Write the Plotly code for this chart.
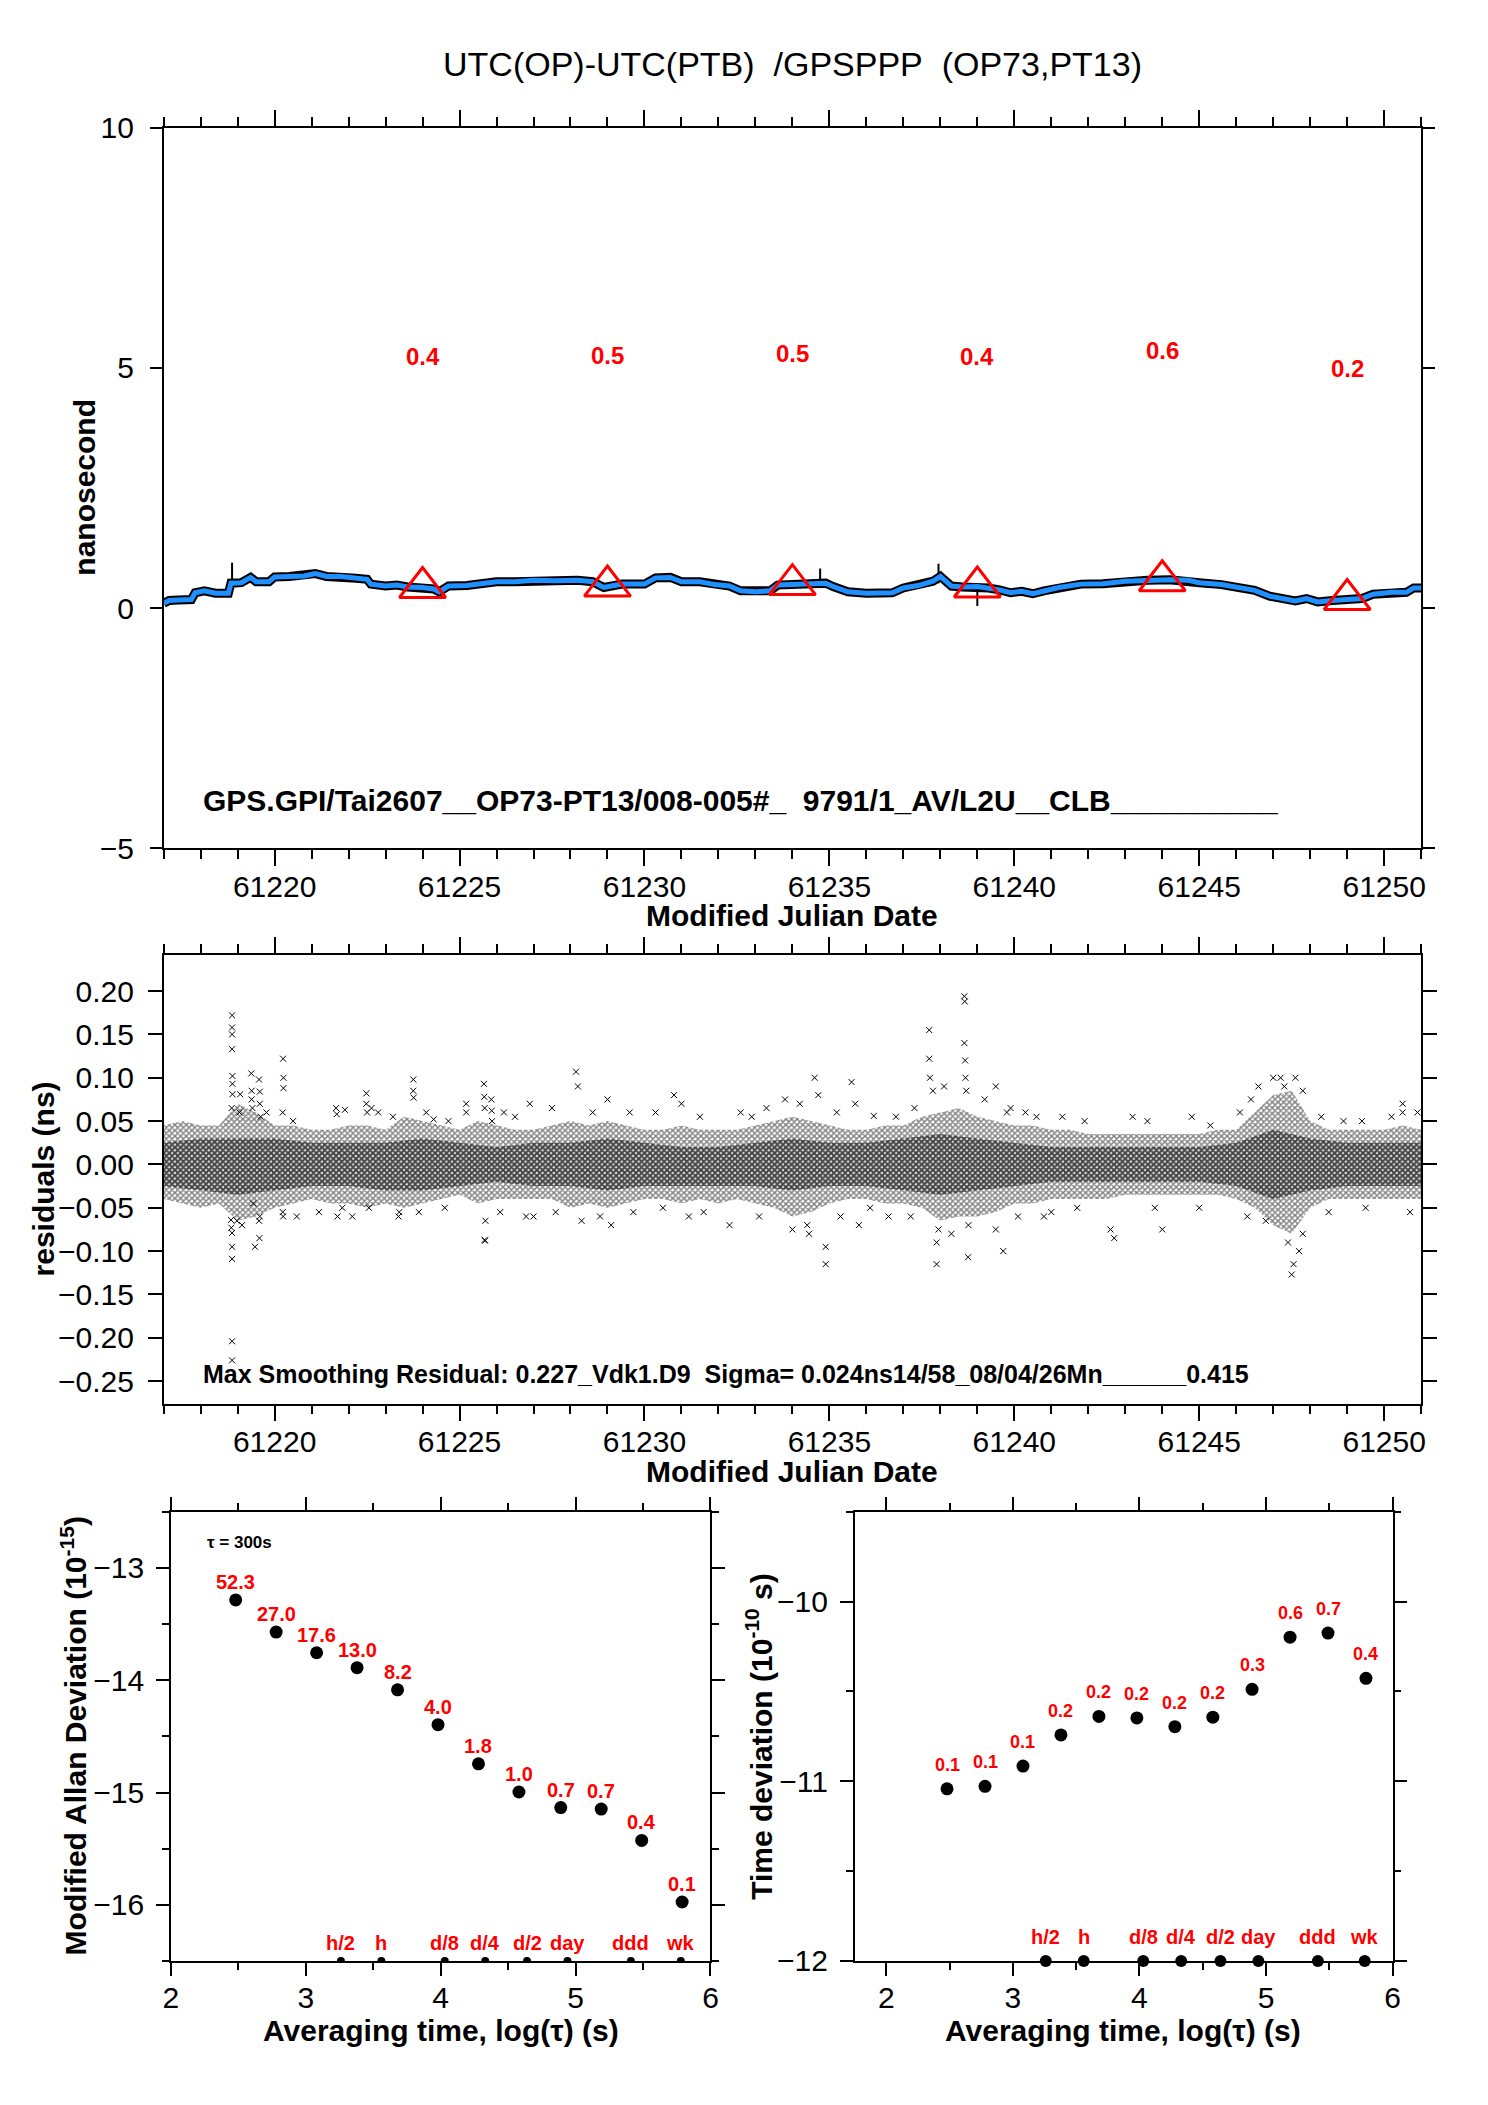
import plotly.graph_objects as go

# -------------------------
# Top panel: UTC(OP)-UTC(PTB), smoothed curve (ns)
# -------------------------
mjd = [61217.00, 61217.15, 61217.40, 61217.75, 61217.85, 61218.10, 61218.40, 61218.75,
       61218.82, 61219.10, 61219.35, 61219.50, 61219.85, 61220.00, 61220.40, 61220.80,
       61221.10, 61221.40, 61221.80, 61222.20, 61222.50, 61222.60, 61223.00, 61223.30,
       61223.60, 61224.00, 61224.30, 61224.45, 61224.70, 61225.20, 61225.60, 61226.00,
       61226.50, 61227.00, 61227.60, 61228.20, 61228.60, 61228.90, 61229.10, 61229.40,
       61230.00, 61230.30, 61230.70, 61231.00, 61231.50, 61231.90, 61232.30, 61232.60,
       61233.00, 61233.40, 61233.60, 61234.00, 61234.50, 61234.90, 61235.10, 61235.50,
       61236.00, 61236.40, 61236.70, 61237.00, 61237.40, 61237.80, 61238.00, 61238.30,
       61238.60, 61239.00, 61239.30, 61239.60, 61239.90, 61240.20, 61240.50, 61240.80,
       61241.20, 61241.80, 61242.40, 61243.00, 61243.60, 61244.20, 61244.70, 61245.00,
       61245.60, 61246.10, 61246.50, 61246.90, 61247.30, 61247.60, 61247.90, 61248.20,
       61248.60, 61249.00, 61249.40, 61249.70, 61250.20, 61250.60, 61250.80, 61251.00]
smooth_ns = [0.10, 0.16, 0.17, 0.18, 0.32, 0.36, 0.31, 0.31,
             0.52, 0.53, 0.64, 0.55, 0.55, 0.65, 0.66, 0.67,
             0.72, 0.66, 0.66, 0.62, 0.60, 0.50, 0.46, 0.48,
             0.44, 0.43, 0.40, 0.34, 0.46, 0.47, 0.51, 0.55,
             0.55, 0.58, 0.57, 0.58, 0.55, 0.43, 0.46, 0.50,
             0.50, 0.63, 0.64, 0.55, 0.55, 0.49, 0.46, 0.36,
             0.34, 0.36, 0.48, 0.49, 0.50, 0.52, 0.45, 0.34,
             0.31, 0.33, 0.32, 0.42, 0.47, 0.56, 0.66, 0.46,
             0.44, 0.45, 0.42, 0.38, 0.32, 0.35, 0.30, 0.36,
             0.43, 0.50, 0.51, 0.56, 0.58, 0.59, 0.58, 0.53,
             0.49, 0.42, 0.37, 0.25, 0.19, 0.15, 0.20, 0.13,
             0.16, 0.17, 0.20, 0.29, 0.33, 0.33, 0.42, 0.42]

# raw-data spikes poking out of the curve
spike_mjd = [61218.85, 61237.95, 61234.75, 61239.0]
spike_ns = [0.74, 0.72, 0.62, 0.25]

# red triangles every 5 days
tri_mjd = [61224, 61229, 61234, 61239, 61244, 61249]
tri_ns = [0.43, 0.46, 0.49, 0.44, 0.57, 0.18]
tri_text = ["0.4", "0.5", "0.5", "0.4", "0.6", "0.2"]

# -------------------------
# Middle panel: residuals (ns)
# -------------------------
env_t = [61217.0, 61217.5, 61218.0, 61218.5, 61219.0, 61219.5, 61220.0, 61220.5, 61221.0, 61221.5,
         61222.0, 61222.5, 61223.0, 61223.5, 61224.0, 61224.5, 61225.0, 61225.5, 61226.0, 61226.5,
         61227.0, 61227.5, 61228.0, 61228.5, 61229.0, 61229.5, 61230.0, 61230.5, 61231.0, 61231.5,
         61232.0, 61232.5, 61233.0, 61233.5, 61234.0, 61234.5, 61235.0, 61235.5, 61236.0, 61236.5,
         61237.0, 61237.5, 61238.0, 61238.5, 61239.0, 61239.5, 61240.0, 61240.5, 61241.0, 61241.5,
         61242.0, 61242.5, 61243.0, 61243.5, 61244.0, 61244.5, 61245.0, 61245.5, 61246.0, 61246.5,
         61247.0, 61247.5, 61248.0, 61248.5, 61249.0, 61249.5, 61250.0, 61250.5, 61251.0]
env_hi = [0.045, 0.050, 0.045, 0.045, 0.070, 0.060, 0.045, 0.045, 0.040, 0.040,
          0.045, 0.045, 0.040, 0.055, 0.050, 0.045, 0.040, 0.050, 0.045, 0.040,
          0.040, 0.045, 0.050, 0.045, 0.050, 0.045, 0.040, 0.040, 0.045, 0.040,
          0.040, 0.040, 0.045, 0.050, 0.055, 0.050, 0.045, 0.040, 0.040, 0.045,
          0.045, 0.055, 0.060, 0.065, 0.055, 0.050, 0.045, 0.045, 0.040, 0.040,
          0.035, 0.035, 0.035, 0.035, 0.035, 0.035, 0.035, 0.040, 0.040, 0.060,
          0.080, 0.085, 0.050, 0.040, 0.040, 0.040, 0.040, 0.045, 0.040]
env_lo = [-0.040, -0.045, -0.050, -0.045, -0.065, -0.060, -0.050, -0.045, -0.040, -0.045,
          -0.045, -0.050, -0.045, -0.050, -0.045, -0.040, -0.035, -0.045, -0.040, -0.040,
          -0.040, -0.040, -0.050, -0.045, -0.050, -0.045, -0.040, -0.040, -0.045, -0.040,
          -0.045, -0.040, -0.045, -0.050, -0.060, -0.055, -0.045, -0.040, -0.040, -0.045,
          -0.045, -0.050, -0.065, -0.060, -0.060, -0.055, -0.045, -0.045, -0.040, -0.040,
          -0.040, -0.040, -0.035, -0.035, -0.035, -0.035, -0.035, -0.035, -0.040, -0.050,
          -0.070, -0.080, -0.050, -0.040, -0.040, -0.040, -0.040, -0.040, -0.040]

core_t = [61217, 61218, 61219, 61220, 61221, 61222, 61223, 61224, 61225, 61226, 61227, 61228,
          61229, 61230, 61231, 61232, 61233, 61234, 61235, 61236, 61237, 61238, 61239, 61240,
          61241, 61242, 61243, 61244, 61245, 61246, 61247, 61248, 61249, 61250, 61251]
core_hi = [0.025, 0.030, 0.030, 0.030, 0.025, 0.025, 0.025, 0.030, 0.025, 0.020, 0.025, 0.025,
           0.030, 0.025, 0.020, 0.020, 0.025, 0.030, 0.025, 0.025, 0.030, 0.035, 0.030, 0.025,
           0.020, 0.020, 0.020, 0.020, 0.020, 0.025, 0.040, 0.030, 0.025, 0.025, 0.025]
core_lo = [-0.025, -0.030, -0.035, -0.030, -0.025, -0.025, -0.030, -0.030, -0.025, -0.020, -0.025, -0.025,
           -0.030, -0.025, -0.025, -0.025, -0.025, -0.030, -0.025, -0.025, -0.030, -0.035, -0.030, -0.025,
           -0.020, -0.020, -0.020, -0.020, -0.020, -0.025, -0.040, -0.030, -0.025, -0.025, -0.025]

out_t = [61218.85, 61218.85, 61218.85, 61218.85, 61218.86, 61218.86, 61218.86, 61218.84, 61218.82, 61218.83,
         61218.85, 61218.85, 61218.85, 61218.85, 61218.85, 61219.07, 61219.05, 61218.98, 61219.12, 61219.37,
         61219.38, 61219.38, 61219.40, 61219.42, 61219.47, 61219.58, 61219.60, 61219.60, 61219.62, 61219.58,
         61219.59, 61219.60, 61219.78, 61220.23, 61220.24, 61220.24, 61220.22, 61220.22, 61220.23, 61221.66,
         61221.68, 61221.70, 61221.83, 61222.48, 61222.48, 61222.50, 61222.55, 61222.62, 61223.35, 61223.37,
         61223.75, 61223.75, 61223.76, 61224.30, 61225.18, 61225.18, 61225.66, 61225.67, 61225.68, 61225.70,
         61225.68, 61225.69, 61225.86, 61225.87, 61225.88, 61226.50, 61227.00, 61228.15, 61228.20, 61228.30,
         61229.00, 61229.10, 61230.80, 61231.00, 61231.20, 61232.30, 61232.60, 61233.80, 61234.00, 61234.20,
         61234.45, 61234.40, 61234.60, 61234.70, 61234.90, 61234.90, 61235.60, 61235.70, 61235.80, 61236.20,
         61236.60, 61237.70, 61237.70, 61237.72, 61237.80, 61237.90, 61237.90, 61237.95, 61238.10, 61238.30,
         61238.65, 61238.66, 61238.65, 61238.67, 61238.68, 61238.70, 61238.75, 61238.76, 61239.20, 61239.50,
         61239.50, 61239.70, 61239.80, 61240.30, 61240.80, 61242.60, 61242.70, 61243.20, 61244.00, 61244.80,
         61246.40, 61246.60, 61246.80, 61247.00, 61247.20, 61247.30, 61247.40, 61247.50, 61247.55, 61247.60,
         61247.70, 61247.80, 61247.80, 61248.90, 61250.50, 61250.50,
         61220.50, 61221.90, 61222.80, 61223.20, 61224.10, 61224.70, 61226.20, 61226.90, 61227.50, 61228.60,
         61229.60, 61230.30, 61231.50, 61232.90, 61233.30, 61235.20, 61236.80, 61237.30, 61239.90, 61240.60,
         61241.30, 61241.90, 61243.60, 61245.30, 61246.10, 61248.30, 61249.40, 61250.20, 61250.90,
         61220.60, 61221.20, 61222.10, 61223.90, 61224.60, 61226.10, 61226.80, 61227.60, 61228.80, 61229.70,
         61230.50, 61231.60, 61233.10, 61235.30, 61236.10, 61237.20, 61240.10, 61241.00, 61241.70, 61243.80,
         61245.00, 61246.30, 61248.50, 61249.50, 61250.70]
out_ns = [0.172, 0.158, 0.150, 0.133, 0.102, 0.093, 0.081, 0.065, -0.064, -0.073,
          -0.079, -0.095, -0.109, -0.204, -0.226, 0.081, 0.060, -0.065, -0.070, 0.105,
          0.085, 0.075, 0.065, -0.045, -0.095, 0.098, 0.084, 0.070, 0.055, -0.065,
          -0.085, -0.060, 0.060, 0.122, 0.100, 0.088, 0.060, -0.055, -0.060, 0.065,
          0.058, -0.060, -0.050, 0.082, 0.070, 0.060, -0.050, 0.065, -0.060, -0.055,
          0.098, 0.085, 0.077, 0.052, 0.070, 0.060, 0.093, 0.078, 0.065, -0.065,
          -0.087, -0.088, 0.075, 0.062, 0.050, 0.055, -0.060, 0.107, 0.090, -0.065,
          0.075, -0.070, 0.080, 0.070, -0.060, -0.070, 0.060, 0.075, -0.075, 0.070,
          -0.080, -0.070, 0.100, 0.080, -0.115, -0.095, 0.095, 0.070, -0.070, 0.056,
          -0.060, 0.155, 0.122, 0.100, 0.085, -0.115, -0.090, -0.075, 0.090, -0.080,
          0.194, 0.188, 0.140, 0.120, 0.100, 0.085, -0.107, -0.070, 0.075, 0.090,
          -0.075, -0.100, 0.060, 0.060, -0.060, -0.075, -0.085, 0.055, -0.075, 0.055,
          0.075, 0.090, -0.065, 0.100, 0.100, 0.090, -0.090, -0.127, -0.115, 0.100,
          -0.100, 0.085, -0.080, 0.050, 0.070, 0.060,
          0.050, 0.063, 0.060, 0.055, 0.060, 0.050, 0.060, 0.070, 0.065, 0.060,
          0.060, 0.060, 0.055, 0.055, 0.065, 0.060, 0.055, 0.065, 0.065, 0.055,
          0.055, 0.050, 0.050, 0.045, 0.060, 0.055, 0.050, 0.055, 0.060,
          -0.060, -0.055, -0.060, -0.055, -0.050, -0.055, -0.060, -0.055, -0.060, -0.055,
          -0.050, -0.055, -0.060, -0.060, -0.050, -0.060, -0.060, -0.055, -0.050, -0.050,
          -0.050, -0.060, -0.055, -0.050, -0.055]

# -------------------------
# Bottom panels: MDEV and TDEV
# -------------------------
log_tau = [2.48, 2.78, 3.08, 3.38, 3.68, 3.98, 4.28, 4.58, 4.89, 5.19, 5.49, 5.79]
log_mdev = [-13.285, -13.571, -13.755, -13.888, -14.085, -14.396, -14.744, -14.995,
            -15.134, -15.147, -15.426, -15.975]
mdev_text = ["52.3", "27.0", "17.6", "13.0", "8.2", "4.0", "1.8", "1.0", "0.7", "0.7", "0.4", "0.1"]
log_tdev = [-11.042, -11.028, -10.915, -10.742, -10.639, -10.647, -10.696, -10.643,
            -10.488, -10.198, -10.175, -10.427]
tdev_text = ["0.1", "0.1", "0.1", "0.2", "0.2", "0.2", "0.2", "0.2", "0.3", "0.6", "0.7", "0.4"]

mark_tau = [3.26, 3.56, 4.03, 4.33, 4.64, 4.94, 5.41, 5.78]
mark_text = ["h/2", "h", "d/8", "d/4", "d/2", "day", "ddd", "wk"]

FONT = "Liberation Sans"
# the page keeps its 8 px body margin, so the figure is 16 px smaller than the window
W, H = 1472, 2089


# target positions are given in picture pixels; the captured page comes out
# slightly shrunk and shifted, so undo that before turning them into paper units
def px(p):
    return ((p - 6.0) / 0.99 - 8) / W


def py(p):
    return 1 - ((p - 12.6) / 0.986 - 8) / H


fig = go.Figure()

# top panel
fig.add_trace(go.Scatter(x=mjd, y=smooth_ns, mode="lines", xaxis="x", yaxis="y",
                         line=dict(color="black", width=9), showlegend=False))
fig.add_trace(go.Scatter(x=spike_mjd, y=spike_ns, mode="markers", xaxis="x", yaxis="y",
                         marker=dict(symbol="line-ns-open", size=14, color="black",
                                     line=dict(color="black", width=2)),
                         showlegend=False))
fig.add_trace(go.Scatter(x=mjd, y=smooth_ns, mode="lines", xaxis="x", yaxis="y",
                         line=dict(color="#1E90FF", width=5), showlegend=False))
fig.add_trace(go.Scatter(x=tri_mjd, y=tri_ns, mode="markers", xaxis="x", yaxis="y",
                         marker=dict(symbol="triangle-up-open", size=40, color="red",
                                     line=dict(color="red", width=3)),
                         showlegend=False))

# middle panel: dense band of residual crosses + isolated outliers
fig.add_trace(go.Scatter(x=env_t, y=env_lo, mode="lines", xaxis="x2", yaxis="y2",
                         line=dict(width=0), showlegend=False))
fig.add_trace(go.Scatter(x=env_t, y=env_hi, mode="lines", xaxis="x2", yaxis="y2",
                         line=dict(width=0), fill="tonexty",
                         fillpattern=dict(shape="x", size=4, solidity=0.6,
                                          fgcolor="black", bgcolor="white"),
                         showlegend=False))
fig.add_trace(go.Scatter(x=core_t, y=core_lo, mode="lines", xaxis="x2", yaxis="y2",
                         line=dict(width=0), showlegend=False))
fig.add_trace(go.Scatter(x=core_t, y=core_hi, mode="lines", xaxis="x2", yaxis="y2",
                         line=dict(width=0), fill="tonexty",
                         fillpattern=dict(shape="x", size=4, solidity=0.85,
                                          fgcolor="black", bgcolor="rgba(0,0,0,0)"),
                         showlegend=False))
fig.add_trace(go.Scatter(x=out_t, y=out_ns, mode="markers", xaxis="x2", yaxis="y2",
                         marker=dict(symbol="x-thin-open", size=6, color="black",
                                     line=dict(color="black", width=1)),
                         showlegend=False))

# bottom-left: modified Allan deviation
fig.add_trace(go.Scatter(x=log_tau, y=log_mdev, mode="markers", xaxis="x3", yaxis="y3",
                         marker=dict(size=13, color="black"), showlegend=False))
fig.add_trace(go.Scatter(x=mark_tau, y=[-16.5] * len(mark_tau), mode="markers",
                         xaxis="x3", yaxis="y3", marker=dict(size=8, color="black"),
                         showlegend=False))

# bottom-right: time deviation
fig.add_trace(go.Scatter(x=log_tau, y=log_tdev, mode="markers", xaxis="x4", yaxis="y4",
                         marker=dict(size=13, color="black"), showlegend=False))
fig.add_trace(go.Scatter(x=mark_tau, y=[-12] * len(mark_tau), mode="markers",
                         xaxis="x4", yaxis="y4", marker=dict(size=12, color="black"),
                         cliponaxis=False, showlegend=False))


def ax(**kw):
    base = dict(showline=True, linecolor="black", linewidth=1.5, mirror="ticks",
                ticks="outside", tickcolor="black", tickwidth=1.5, showgrid=False,
                zeroline=False, tickfont=dict(family=FONT, size=30, color="black"),
                fixedrange=True)
    base.update(kw)
    return base


def minor(dtick, length):
    return dict(ticks="outside", dtick=dtick, ticklen=length, tickcolor="black",
                tickwidth=1.5, showgrid=False)


mjd_ticks = dict(tick0=61220, dtick=5, ticklen=16, minor=minor(1, 9), tickformat="d",
                 ticklabelstandoff=-5)

annotations = []


def note(text, x, y, size, xref="paper", yref="paper", color="black", angle=0,
         xanchor="center", yshift=0):
    annotations.append(dict(text=text, x=x, y=y, xref=xref, yref=yref, showarrow=False,
                            font=dict(family=FONT, size=size, color=color),
                            textangle=angle, xanchor=xanchor, yanchor="middle",
                            yshift=yshift))


note("UTC(OP)-UTC(PTB)\u00a0\u00a0/GPSPPP\u00a0\u00a0(OP73,PT13)", px(791), py(61), 34)
note("<b>Modified Julian Date</b>", px(791), py(914), 30)
note("<b>Modified Julian Date</b>", px(791), py(1471), 30)
note("<b>nanosecond</b>", px(83), py(485), 30, angle=-90)
note("<b>residuals (ns)</b>", px(41), py(1178), 30, angle=-90)
note("<b>Modified Allan Deviation (10<sup>-15</sup>)</b>", px(72), py(1736), 30, angle=-90)
note("<b>Time deviation (10<sup>-10</sup> s)</b>", px(758), py(1736), 30, angle=-90)
note("<b>Averaging time, log(\u03c4) (s)</b>", px(439), py(2031), 30)
note("<b>Averaging time, log(\u03c4) (s)</b>", px(1122), py(2031), 30)

note("<b>GPS.GPI/Tai2607__OP73-PT13/008-005#_\u00a0\u00a09791/1_AV/L2U__CLB__________</b>",
     61218, -4.0, 30, xref="x", yref="y", xanchor="left")
note("<b>Max Smoothing Residual: 0.227_Vdk1.D9\u00a0\u00a0Sigma= 0.024ns14/58_08/04/26Mn______0.415</b>",
     61218, -0.242, 25, xref="x2", yref="y2", xanchor="left")

for t, v, s in zip(tri_mjd, tri_ns, tri_text):
    note("<b>" + s + "</b>", t, v + 4.8, 24, xref="x", yref="y", color="red")

for t, v, s in zip(log_tau, log_mdev, mdev_text):
    note("<b>" + s + "</b>", t, v, 20, xref="x3", yref="y3", color="red", yshift=18)
for t, v, s in zip(log_tau, log_tdev, tdev_text):
    note("<b>" + s + "</b>", t, v, 18, xref="x4", yref="y4", color="red", yshift=24)
for t, s in zip(mark_tau, mark_text):
    note("<b>" + s + "</b>", t, -16.5, 20, xref="x3", yref="y3", color="red", yshift=18)
    note("<b>" + s + "</b>", t, -12, 20, xref="x4", yref="y4", color="red", yshift=24)

note("<b>\u03c4 = 300s</b>", 2.25, -12.77, 17, xref="x3", yref="y3", xanchor="left")

fig.update_layout(
    width=W, height=H,
    margin=dict(l=0, r=0, t=0, b=0),
    paper_bgcolor="white", plot_bgcolor="white",
    font=dict(family=FONT, color="black"),
    xaxis=ax(domain=[px(161.7), px(1420.3)], anchor="y", range=[61217, 61251], **mjd_ticks),
    yaxis=ax(domain=[py(846.4), py(124.3)], anchor="x", range=[-5, 10], tick0=0, dtick=5,
             ticklen=12, ticklabelstandoff=10),
    xaxis2=ax(domain=[px(161.7), px(1420.3)], anchor="y2", range=[61217, 61251], **mjd_ticks),
    yaxis2=ax(domain=[py(1402.7), py(953.3)], anchor="x2", range=[-0.276, 0.2415], tick0=0,
              dtick=0.05, tickformat=".2f", ticklen=14, ticklabelstandoff=8),
    xaxis3=ax(domain=[px(169), px(709)], anchor="y3", range=[2, 6], tick0=2, dtick=1,
              ticklen=13, minor=minor(0.5, 7), ticklabelstandoff=-4),
    yaxis3=ax(domain=[py(1961), py(1511)], anchor="x3", range=[-16.5, -12.5], tick0=-13,
              dtick=1, ticklen=13, minor=minor(0.5, 7), ticklabelstandoff=6),
    xaxis4=ax(domain=[px(853.3), px(1391.7)], anchor="y4", range=[1.75, 6], tick0=2, dtick=1,
              ticklen=13, minor=minor(0.5, 7), ticklabelstandoff=-4),
    yaxis4=ax(domain=[py(1961), py(1511)], anchor="x4", range=[-12, -9.5], tick0=-12,
              dtick=1, ticklen=13, minor=minor(0.5, 7), ticklabelstandoff=6),
    annotations=annotations,
)

fig.write_html("out.html", config={"displayModeBar": False})
